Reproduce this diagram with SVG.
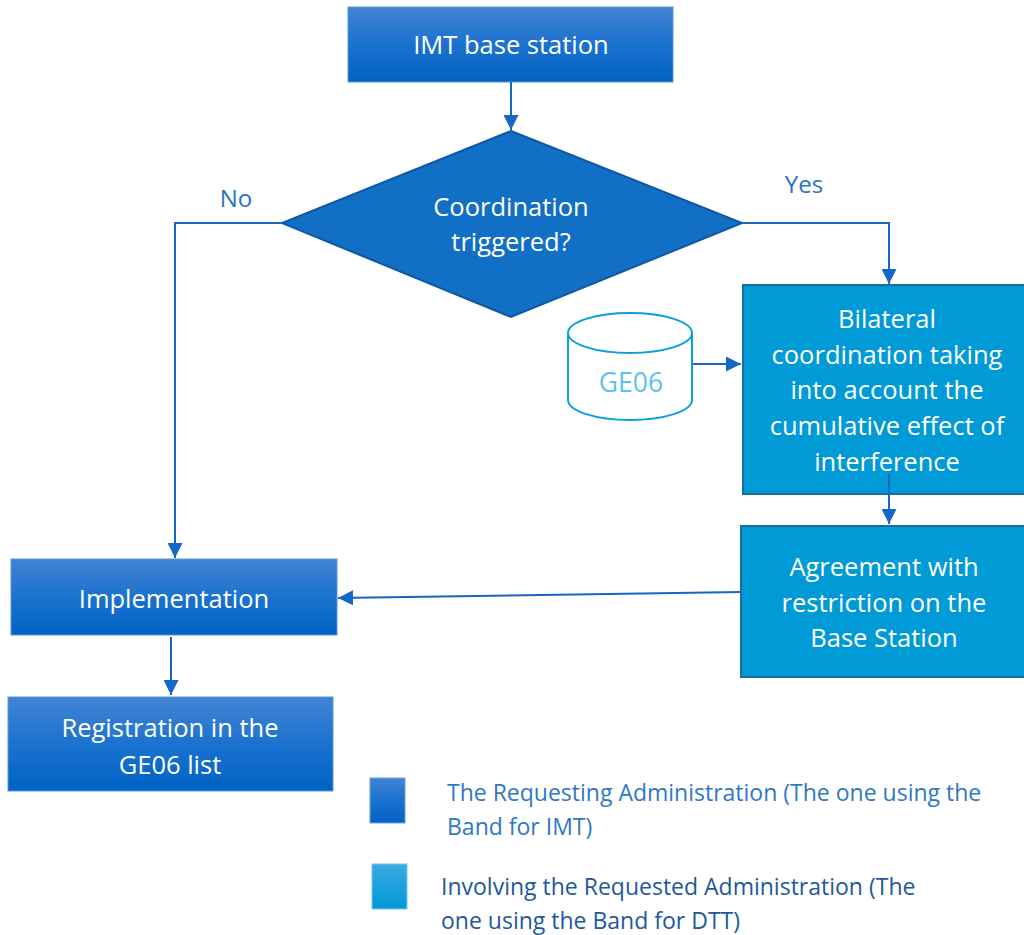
<svg xmlns="http://www.w3.org/2000/svg" width="1024" height="935" viewBox="0 0 1024 935">
<defs>
<linearGradient id="gBlue" x1="0" y1="0" x2="0" y2="1">
<stop offset="0" stop-color="#4384d3"/>
<stop offset="0.5" stop-color="#1b72cf"/>
<stop offset="1" stop-color="#0062c3"/>
</linearGradient>
<linearGradient id="gCyan" x1="0" y1="0" x2="0" y2="1">
<stop offset="0" stop-color="#3aaae3"/>
<stop offset="1" stop-color="#0098d6"/>
</linearGradient>
<marker id="arrow" viewBox="0 0 16 16" refX="16" refY="8" markerWidth="15" markerHeight="15" orient="auto" markerUnits="userSpaceOnUse">
<path d="M0,0 L16,8 L0,16 z" fill="#1467c4"/>
</marker>
</defs>
<style>
.dark{fill:url(#gBlue);stroke:#5a98d8;stroke-width:1}
.cyan{fill:#009ad7;stroke:#1c6d9c;stroke-width:2}
.t{font-family:"Open Sans","Liberation Sans",sans-serif;font-size:25.5px;fill:#ffffff;text-anchor:middle}
.lbl{font-family:"Open Sans","Liberation Sans",sans-serif;font-size:24px;fill:#2a73c2;text-anchor:middle}
.leg{font-family:"Open Sans","Liberation Sans",sans-serif;font-size:23px;fill:#2f78c4}
.leg2{font-family:"Open Sans","Liberation Sans",sans-serif;font-size:23px;fill:#22599a}
.c{fill:none;stroke:#1467c4;stroke-width:2;marker-end:url(#arrow)}
</style>
<rect width="1024" height="935" fill="#ffffff"/>
<g id="imt">
<rect class="dark" x="348" y="7" width="325" height="75"/>
<text class="t" x="511" y="54">IMT base station</text>
</g>
<g id="decision">
<polygon points="511,131 742,223 511,317 282,223" fill="#116fc6" stroke="#0e58a6" stroke-width="2"/>
<text class="t" x="511" y="216">Coordination</text>
<text class="t" x="511" y="251">triggered?</text>
</g>
<g id="labels">
<text class="lbl" x="236" y="207">No</text>
<text class="lbl" x="804" y="193">Yes</text>
</g>
<g id="ge06">
<path d="M568,333 L568,400 A62,20 0 0 0 692,400 L692,333" fill="#ffffff" stroke="#0aa0dc" stroke-width="2"/>
<ellipse cx="630" cy="333" rx="62" ry="20" fill="#ffffff" stroke="#0aa0dc" stroke-width="2"/>
<text x="631" y="392" font-family="Open Sans, Liberation Sans, sans-serif" font-size="26.5" fill="#5cc0f0" text-anchor="middle">GE06</text>
</g>
<g id="bilateral">
<rect class="cyan" x="743" y="285" width="290" height="209"/>
<text class="t" x="887" y="328">Bilateral</text>
<text class="t" x="887" y="364">coordination taking</text>
<text class="t" x="887" y="399">into account the</text>
<text class="t" x="887" y="435">cumulative effect of</text>
<text class="t" x="887" y="471">interference</text>
</g>
<g id="agreement">
<rect class="cyan" x="741" y="526" width="292" height="151"/>
<text class="t" x="884" y="576">Agreement with</text>
<text class="t" x="884" y="612">restriction on the</text>
<text class="t" x="884" y="647">Base Station</text>
</g>
<g id="implementation">
<rect class="dark" x="11" y="559" width="326" height="76"/>
<text class="t" x="174" y="608">Implementation</text>
</g>
<g id="registration">
<rect class="dark" x="8" y="697" width="325" height="94"/>
<text class="t" x="170" y="737">Registration in the</text>
<text class="t" x="170" y="774">GE06 list</text>
</g>
<g id="connectors">
<path class="c" d="M511,82 L511,130"/>
<path class="c" d="M282,223 L175,223 L175,558"/>
<path class="c" d="M742,223 L889,223 L889,284"/>
<path class="c" d="M693,364 L741,364"/>
<path class="c" d="M889,474 L889,524"/>
<path class="c" d="M741,592 L338,598"/>
<path class="c" d="M171,637 L171,695"/>
</g>
<g id="legend">
<rect x="370" y="778" width="35" height="45" fill="url(#gBlue)" stroke="#6aa2dc" stroke-width="1"/>
<text class="leg" x="447" y="801">The Requesting Administration (The one using the</text>
<text class="leg" x="447" y="835">Band for IMT)</text>
<rect x="372" y="864" width="35" height="45" fill="url(#gCyan)" stroke="#7cc6ee" stroke-width="1"/>
<text class="leg2" x="441" y="895">Involving the Requested Administration (The</text>
<text class="leg2" x="441" y="929">one using the Band for DTT)</text>
</g>
</svg>
